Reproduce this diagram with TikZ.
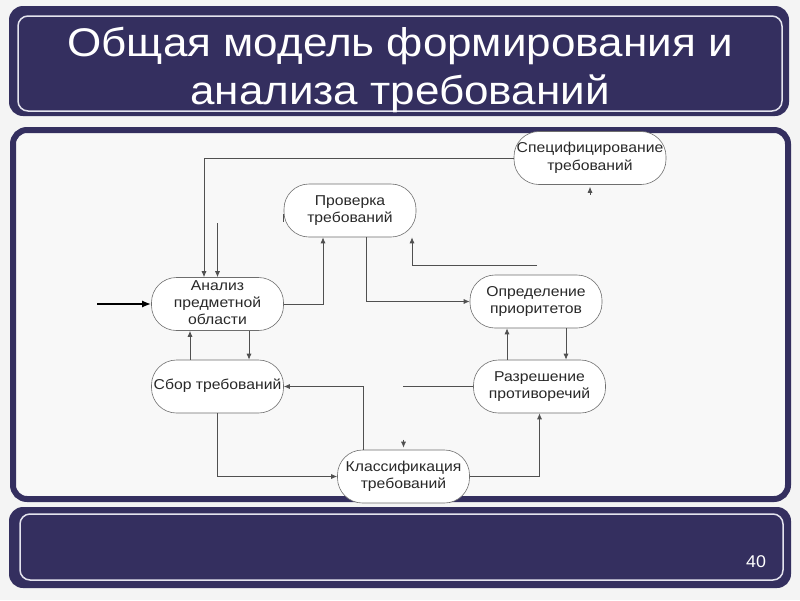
\documentclass[tikz,border=0pt]{standalone}
\usepackage{fontspec}
\setmainfont{Liberation Sans}
\usetikzlibrary{arrows.meta,calc}
\definecolor{navy}{RGB}{52,47,95}
\definecolor{pagebg}{RGB}{244,244,244}
\definecolor{panelbg}{RGB}{248,248,248}
\definecolor{inline}{RGB}{228,228,238}
\definecolor{nodeborder}{RGB}{110,110,110}
\definecolor{linegray}{RGB}{80,80,80}
\definecolor{textgray}{RGB}{40,40,40}
\newcommand\stretchtext[1]{\scalebox{1.1}[1]{\begin{tabular}{@{}c@{}}#1\end{tabular}}}
\begin{document}
\begin{tikzpicture}[x=1pt,y=-1pt,
  proc/.style={draw=nodeborder, line width=0.6pt, fill=white, rounded corners=25pt,
    minimum width=132pt, minimum height=53pt, align=center, inner sep=0pt,
    font=\fontsize{14.3}{17.3}\selectfont, text=textgray},
  conn/.style={draw=linegray, line width=0.8pt},
  arr/.style={conn, -{Latex[length=6pt,width=5pt]}},
  titletxt/.style={text=white, font=\fontsize{40}{48}\selectfont, inner sep=0pt},
  panelline/.style={draw=inline, line width=1.5pt}
]
\useasboundingbox (0,0) rectangle (800,600);
\fill[pagebg] (0,0) rectangle (800,600);

% title panel
\fill[navy, rounded corners=14pt] (9,6) rectangle (789,116);
\draw[panelline, rounded corners=10pt] (18,16) rectangle (782,111);
\node[titletxt, anchor=base] (t1) at (400,56) {\scalebox{1.1}[1]{Общая модель формирования и}};
\node[titletxt, anchor=base] (t2) at (400,104) {\scalebox{1.1}[1]{анализа требований}};

% middle panel
\draw[navy, fill=panelbg, line width=6pt, rounded corners=14pt] (13,130) rectangle (788,499);

% bottom panel
\fill[navy, rounded corners=14pt] (9,507) rectangle (791,588);
\draw[panelline, rounded corners=10pt] (20,514) rectangle (783,580);
\node[text=white, font=\fontsize{17}{20}\selectfont, inner sep=0pt] (pg) at (756,561.5) {\scalebox{1.05}[1]{40}};

% nodes
\node[proc] (an) at (217.5,304) {\stretchtext{Анализ\\предметной\\области}};
\node[proc] (pr) at (350,210.5) {\stretchtext{Проверка\\требований}};
\node[proc, minimum width=152pt] (sp) at (590,158) {\stretchtext{Специфицирование\\требований}};
\node[proc] (op) at (536,301.5) {\stretchtext{Определение\\приоритетов}};
\node[proc] (sb) at (217.5,386.5) {\stretchtext{Сбор требований}};
\node[proc] (kl) at (403.5,476.5) {\stretchtext{Классификация\\требований}};
\node[proc] (rz) at (539.5,386.5) {\stretchtext{Разрешение\\противоречий}};

% free ends
\coordinate (in) at (97,304);
\coordinate (f1) at (217.5,223);
\coordinate (f2) at (537,265);
\coordinate (f3) at (403,386.5);

% connectors
\draw[line width=2pt, -{Latex[length=9pt,width=7pt]}] (in) -- (an.west);
\draw[arr] (sp.west) -| ([xshift=-13.5pt]an.north);
\draw[arr] (f1) -- (an.north);
\draw[arr] (an.east) -| ([xshift=-27pt]pr.south);
\draw[arr] ([xshift=16pt]pr.south) |- (op.west);
\draw[arr] (f2) -| ([xshift=62pt]pr.south);
\draw[line width=1.4pt, draw=linegray] ([yshift=-3pt]pr.west) -- ([yshift=-11pt]pr.west);
\draw[arr] ([yshift=-10pt]sp.south) -- ([yshift=-2pt]sp.south);
\draw[arr] ([xshift=-32.5pt]rz.north) -- ([xshift=-32.5pt]rz.north |- op.south);
\draw[arr] ([xshift=30pt]op.south) -- ([xshift=30pt]op.south |- rz.north);
\draw[arr] ([xshift=-27.5pt]sb.north) -- ([xshift=-27.5pt]sb.north |- an.south);
\draw[arr] ([xshift=31.5pt]an.south) -- ([xshift=31.5pt]an.south |- sb.north);
\draw[arr] ([xshift=-40.5pt]kl.north) |- (sb.east);
\draw[conn] (f3) -- (rz.west);
\draw[arr] ([yshift=10pt]kl.north) -- ([yshift=2pt]kl.north);
\draw[arr] (sb.south) |- (kl.west);
\draw[arr] (kl.east) -| (rz.south);
\end{tikzpicture}
\end{document}
